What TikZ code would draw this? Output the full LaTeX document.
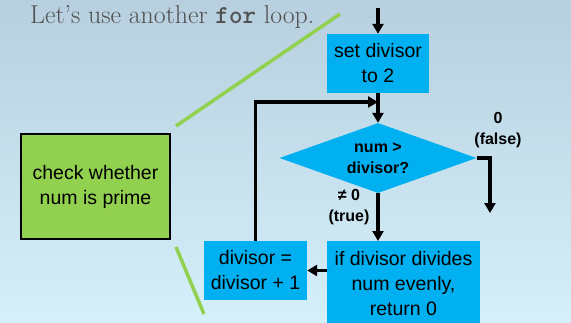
\documentclass[tikz,border=0pt]{standalone}
\usepackage{fontspec}
\newfontfamily\boxfont{Liberation Sans}
\usetikzlibrary{positioning,shapes.geometric,arrows.meta}

\definecolor{boxblue}{RGB}{0,176,240}
\definecolor{leafgreen}{RGB}{146,208,80}
\definecolor{bgtop}{RGB}{183,207,222}
\definecolor{bgbottom}{RGB}{212,240,250}
\definecolor{titlegray}{RGB}{80,80,80}

\begin{document}
\begin{tikzpicture}[x=1pt, y=-1pt]
    % Define styles
    \tikzstyle{bluebox}=[rectangle, fill=boxblue, inner sep=0pt, align=center, font=\boxfont\fontsize{19.5}{25}\selectfont]
    \tikzstyle{decision}=[diamond, aspect=2.8, fill=boxblue, inner sep=0pt, align=center, minimum width=197pt, minimum height=70pt, font=\boxfont\bfseries\fontsize{16}{21}\selectfont]
    \tikzstyle{greenbox}=[rectangle, draw=black, line width=1.5pt, fill=leafgreen, minimum width=149pt, minimum height=105pt, align=center, font=\boxfont\fontsize{19.5}{25}\selectfont]
    \tikzstyle{branch}=[align=center, inner sep=0pt, font=\boxfont\bfseries\fontsize{16}{21}\selectfont]
    \tikzstyle{arrow}=[-{Triangle[length=10pt,width=11pt]}, line width=3.5pt]
    \tikzstyle{callout}=[leafgreen, line width=3.5pt]

    % Background
    \useasboundingbox (0,0) rectangle (571,322);
    \clip (0,0) rectangle (571,322);
    \shade[top color=bgtop, bottom color=bgbottom] (0,0) rectangle (571,322);

    \node[anchor=base west, inner sep=0pt, text=titlegray, font=\fontsize{25.8}{30}\selectfont] (title) at (30,23) {Let’s use another \texttt{\textbf{for}} loop.};

    % Zoomed step
    \node[greenbox] (check) at (95.5,186.5) {check whether\\num is prime};
    \coordinate (zoomtop) at (340,14);
    \coordinate (zoombottom) at (204,314);
    \draw[callout] (176,126) -- (zoomtop);
    \draw[callout] (176,247) -- (zoombottom);

    % Loop steps
    \coordinate (entry) at (378,8);
    \node[bluebox, minimum width=102pt, minimum height=59pt] (setdiv) at (378,63.5) {set divisor\\to 2};
    \node[decision] (test) at (378,158) {num \textgreater\\divisor?};
    \node[bluebox, minimum width=153pt, minimum height=84pt, anchor=north] (divides) at (403.5,241) {if divisor divides\\num evenly,\\return 0};
    \node[bluebox, minimum width=103pt, minimum height=59pt] (increment) at (255.5,270.5) {divisor =\\divisor + 1};
    \coordinate (merge) at (378,102);
    \coordinate (done) at (490,213);

    % Labels
    \node[branch] (falselabel) at (498,130) {0\\(false)};
    \node[branch] (truelabel) at (349,207) {≠ 0\\(true)};

    % Connections
    \draw[arrow] (entry) -- (setdiv.north);
    \draw[arrow] (setdiv.south) -- (test.north);
    \draw[arrow] (test.east) -| (done);
    \draw[arrow] (test.south) -- (test.south |- divides.north);
    \draw[arrow] (divides.west |- increment.east) -- (increment.east);
    \draw[arrow] (increment.north) |- (merge);
\end{tikzpicture}
\end{document}
